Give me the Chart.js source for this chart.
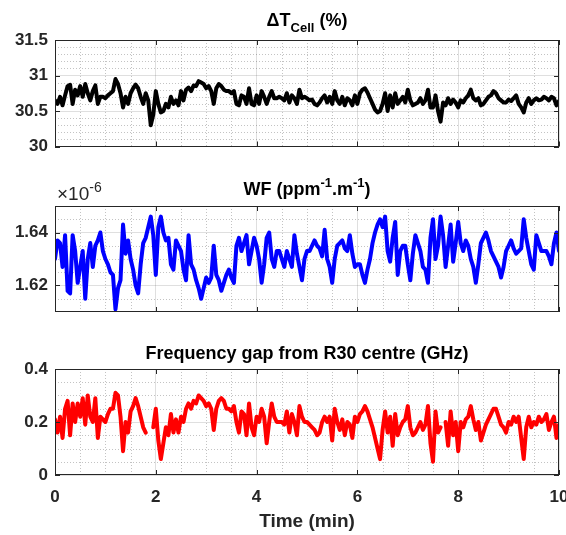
<!DOCTYPE html>
<html>
<head>
<meta charset="utf-8">
<script src="https://cdn.jsdelivr.net/npm/chart.js@4.4.1/dist/chart.umd.min.js"></script>
<style>
  html, body { margin: 0; padding: 0; background: #fff; }
  #wrap { position: relative; width: 566px; height: 535px; overflow: hidden; }
  #wrap canvas { position: absolute; left: 0; }
</style>
</head>
<body>
<div id="wrap">
  <canvas id="cell" width="566" height="165" style="top:0"></canvas>
  <canvas id="wf" width="566" height="170" style="top:165px"></canvas>
  <canvas id="gap" width="566" height="200" style="top:335px"></canvas>
</div>
<script>
// one sample every 3 s (0.05 min)
const TIME_STEP = 0.05;

const cellTemp = [
  30.65, 30.60, 30.70, 30.58, 30.72, 30.85, 30.87, 30.60, 30.80, 30.72,
  30.85, 30.70, 30.88, 30.75, 30.65, 30.78, 30.86, 30.60, 30.70, 30.70,
  30.68, 30.72, 30.75, 30.78, 30.95, 30.88, 30.75, 30.55, 30.70, 30.60,
  30.75, 30.82, 30.87, 30.82, 30.70, 30.60, 30.75, 30.65, 30.30, 30.45,
  30.78, 30.60, 30.48, 30.50, 30.60, 30.55, 30.70, 30.60, 30.65, 30.58,
  30.78, 30.65, 30.80, 30.83, 30.78, 30.86, 30.85, 30.92, 30.90, 30.88,
  30.82, 30.85, 30.78, 30.60, 30.82, 30.88, 30.85, 30.80, 30.78, 30.78,
  30.75, 30.78, 30.60, 30.58, 30.72, 30.70, 30.60, 30.82, 30.60, 30.58,
  30.72, 30.60, 30.78, 30.70, 30.60, 30.70, 30.78, 30.68, 30.68, 30.70,
  30.68, 30.65, 30.75, 30.62, 30.72, 30.68, 30.60, 30.80, 30.68, 30.70,
  30.68, 30.65, 30.66, 30.60, 30.58, 30.62, 30.68, 30.72, 30.62, 30.70,
  30.60, 30.78, 30.65, 30.60, 30.70, 30.58, 30.68, 30.65, 30.58, 30.72,
  30.60, 30.75, 30.80, 30.82, 30.76, 30.68, 30.60, 30.52, 30.48, 30.50,
  30.60, 30.75, 30.50, 30.72, 30.55, 30.75, 30.60, 30.65, 30.70, 30.62,
  30.80, 30.65, 30.58, 30.60, 30.62, 30.68, 30.60, 30.65, 30.80, 30.55,
  30.55, 30.72, 30.50, 30.35, 30.62, 30.58, 30.68, 30.60, 30.66, 30.62,
  30.55, 30.65, 30.62, 30.68, 30.72, 30.80, 30.68, 30.65, 30.68, 30.58,
  30.60, 30.65, 30.70, 30.72, 30.78, 30.75, 30.68, 30.65, 30.62, 30.62,
  30.66, 30.64, 30.68, 30.72, 30.60, 30.55, 30.48, 30.62, 30.68, 30.60,
  30.65, 30.68, 30.65, 30.66, 30.70, 30.68, 30.65, 30.70, 30.68, 30.58,
  30.64
];

// x 1e-6 ppm^-1.m^-1
const wfValues = [
  1.630, 1.637, 1.636, 1.627, 1.639, 1.618, 1.617, 1.639, 1.633, 1.621,
  1.627, 1.633, 1.615, 1.630, 1.636, 1.627, 1.635, 1.637, 1.640, 1.633,
  1.630, 1.628, 1.625, 1.624, 1.611, 1.619, 1.622, 1.643, 1.632, 1.637,
  1.630, 1.626, 1.620, 1.617, 1.628, 1.636, 1.638, 1.642, 1.646, 1.639,
  1.624, 1.642, 1.646, 1.640, 1.637, 1.638, 1.628, 1.626, 1.637, 1.635,
  1.633, 1.626, 1.622, 1.639, 1.628, 1.626, 1.622, 1.619, 1.615, 1.619,
  1.623, 1.621, 1.623, 1.635, 1.624, 1.622, 1.618, 1.621, 1.624, 1.626,
  1.623, 1.621, 1.635, 1.638, 1.633, 1.636, 1.639, 1.628, 1.633, 1.638,
  1.635, 1.630, 1.621, 1.628, 1.638, 1.640, 1.630, 1.627, 1.633, 1.633,
  1.630, 1.627, 1.633, 1.630, 1.627, 1.639, 1.632, 1.627, 1.622, 1.630,
  1.633, 1.633, 1.635, 1.637, 1.635, 1.634, 1.631, 1.641, 1.630, 1.627,
  1.621, 1.630, 1.635, 1.636, 1.637, 1.634, 1.633, 1.639, 1.632, 1.627,
  1.628, 1.628, 1.624, 1.621, 1.626, 1.630, 1.636, 1.640, 1.643, 1.645,
  1.642, 1.646, 1.633, 1.629, 1.638, 1.644, 1.624, 1.633, 1.635, 1.635,
  1.628, 1.622, 1.632, 1.639, 1.636, 1.633, 1.627, 1.626, 1.621, 1.638,
  1.645, 1.630, 1.635, 1.646, 1.639, 1.627, 1.635, 1.643, 1.629, 1.636,
  1.644, 1.636, 1.633, 1.637, 1.635, 1.630, 1.627, 1.621, 1.628, 1.636,
  1.638, 1.640, 1.637, 1.633, 1.631, 1.629, 1.627, 1.623, 1.627, 1.633,
  1.635, 1.637, 1.634, 1.632, 1.633, 1.634, 1.645, 1.638, 1.633, 1.628,
  1.626, 1.639, 1.636, 1.633, 1.633, 1.633, 1.631, 1.628, 1.636, 1.640,
  1.633
];

// GHz, null where the recording drops out
const freqGap = [
  0.21, 0.16, 0.22, 0.14, 0.25, 0.28, 0.15, 0.27, 0.20, 0.27,
  0.22, 0.29, 0.19, 0.30, 0.22, 0.20, 0.29, 0.14, 0.22, 0.21,
  0.20, 0.23, 0.25, 0.25, 0.31, 0.30, 0.22, 0.09, 0.20, 0.16,
  0.24, 0.26, 0.29, 0.26, 0.22, 0.18, 0.16, null, null, 0.18,
  0.25, 0.13, 0.06, 0.12, 0.18, 0.15, 0.23, 0.16, 0.21, 0.16,
  0.22, 0.20, 0.25, 0.27, 0.25, 0.28, 0.27, 0.30, 0.29, 0.28,
  0.26, 0.27, 0.25, 0.17, 0.25, 0.28, 0.29, 0.28, 0.25, 0.25,
  0.24, 0.26, 0.20, 0.16, 0.24, 0.23, 0.15, 0.27, 0.18, 0.15,
  0.22, 0.20, 0.25, 0.22, 0.12, 0.20, 0.27, 0.22, 0.20, 0.20,
  0.20, 0.19, 0.24, 0.16, 0.23, 0.20, 0.15, 0.26, 0.22, 0.20,
  0.20, 0.19, 0.18, 0.17, 0.15, 0.16, 0.20, 0.22, 0.20, 0.22,
  0.13, 0.25, 0.20, 0.17, 0.21, 0.15, 0.20, 0.19, 0.14, 0.22,
  0.20, 0.23, 0.24, 0.26, 0.24, 0.21, 0.18, 0.14, 0.10, 0.06,
  0.17, 0.24, 0.16, 0.22, 0.11, 0.23, 0.15, 0.18, 0.20, 0.21,
  0.26, 0.18, 0.15, 0.16, 0.18, 0.20, 0.17, 0.19, 0.26, 0.12,
  0.05, 0.24, 0.16, 0.18, null, 0.20, 0.11, 0.24, 0.15, 0.20,
  0.09, 0.20, 0.18, 0.21, 0.22, 0.26, 0.21, 0.17, 0.20, 0.13,
  0.16, 0.19, 0.21, 0.23, 0.25, 0.25, 0.22, 0.19, 0.18, 0.16,
  0.20, 0.19, 0.22, 0.20, 0.22, 0.14, 0.06, 0.18, 0.22, 0.18,
  0.20, 0.19, 0.22, 0.20, 0.21, 0.23, 0.17, 0.20, 0.22, 0.14,
  0.19
];

const times = cellTemp.map((_, i) => +(i * TIME_STEP).toFixed(2));
const xTicks = [0, 2, 4, 6, 8, 10];
const cellTicks = [30, 30.5, 31, 31.5];
const wfTicks = [1.62, 1.64];
const gapTicks = [0, 0.2, 0.4];

const FONT = '"Liberation Sans", Arial, Helvetica, sans-serif';
const AXIS_COLOR = '#262626';

function drawRich(ctx, parts, x, y, size, weight, align) {
  const fontFor = (p) => `${weight} ${p.sub || p.sup ? Math.round(size * 0.72) : size}px ${FONT}`;
  let total = 0;
  parts.forEach((p) => { ctx.font = fontFor(p); total += ctx.measureText(p.t).width; });
  let cx = align === 'center' ? x - total / 2 : x;
  ctx.textAlign = 'left';
  ctx.textBaseline = 'alphabetic';
  parts.forEach((p) => {
    ctx.font = fontFor(p);
    const dy = p.sub ? size * 0.32 : p.sup ? -size * 0.42 : 0;
    ctx.fillText(p.t, cx, y + dy);
    cx += ctx.measureText(p.t).width;
  });
}

const isMajor = (v, ticks) => ticks.some((t) => Math.abs(t - v) < 1e-9);

// keep the plot box fixed: no auto padding from edge labels
function noPadding(s) {
  s.paddingLeft = 0;
  s.paddingRight = 0;
  s.paddingTop = 0;
  s.paddingBottom = 0;
}

// matlab-like decorations: dotted minor grid, box, inward ticks, rich titles
const panelDeco = {
  id: 'panelDeco',
  beforeDatasetsDraw(chart, args, opts) {
    const { ctx, chartArea: a, scales: { x, y } } = chart;
    ctx.save();
    ctx.strokeStyle = 'rgba(38,38,38,0.28)';
    ctx.lineWidth = 1;
    ctx.setLineDash([1, 2]);
    ctx.beginPath();
    const nx = Math.round((x.max - x.min) / opts.minorX);
    for (let k = 1; k < nx; k++) {
      const v = x.min + k * opts.minorX;
      if (isMajor(v, xTicks)) continue;
      const px = Math.round(x.getPixelForValue(v)) + 0.5;
      ctx.moveTo(px, a.top);
      ctx.lineTo(px, a.bottom);
    }
    const ny = Math.round((y.max - y.min) / opts.minorY);
    for (let k = 1; k < ny; k++) {
      const v = y.min + k * opts.minorY;
      if (isMajor(v, opts.yTicks)) continue;
      const py = Math.round(y.getPixelForValue(v)) + 0.5;
      ctx.moveTo(a.left, py);
      ctx.lineTo(a.right, py);
    }
    ctx.stroke();
    ctx.restore();
  },
  afterDraw(chart, args, opts) {
    const { ctx, chartArea: a, scales: { x, y } } = chart;
    ctx.save();
    ctx.strokeStyle = AXIS_COLOR;
    ctx.lineWidth = 1;
    ctx.beginPath();
    xTicks.forEach((v) => {
      const px = Math.round(x.getPixelForValue(v)) + 0.5;
      ctx.moveTo(px, a.bottom); ctx.lineTo(px, a.bottom - 5);
      ctx.moveTo(px, a.top); ctx.lineTo(px, a.top + 5);
    });
    opts.yTicks.forEach((v) => {
      const py = Math.round(y.getPixelForValue(v)) + 0.5;
      ctx.moveTo(a.left, py); ctx.lineTo(a.left + 5, py);
      ctx.moveTo(a.right, py); ctx.lineTo(a.right - 5, py);
    });
    ctx.stroke();
    ctx.strokeRect(Math.round(a.left) + 0.5, Math.round(a.top) + 0.5,
      Math.round(a.right - a.left) - 1, Math.round(a.bottom - a.top) - 1);

    ctx.fillStyle = '#000';
    drawRich(ctx, opts.title, (a.left + a.right) / 2, opts.titleY, 18, 'bold', 'center');
    if (opts.exponent) {
      ctx.fillStyle = AXIS_COLOR;
      drawRich(ctx, opts.exponent, a.left + 2, opts.exponentY, 19, 'normal', 'left');
    }
    ctx.restore();
  }
};

function makePanel(id, values, color, yRange, yTicks, minorY, deco, showX, yLabel) {
  const xAxis = {
    type: 'linear',
    min: 0,
    max: 10,
    afterBuildTicks: (s) => { s.ticks = xTicks.map((v) => ({ value: v })); },
    afterFit: (s) => { s.height = showX ? 60 : 0; noPadding(s); },
    grid: { color: 'rgba(38,38,38,0.15)', drawTicks: false },
    border: { display: false },
    ticks: {
      display: showX,
      padding: 12,
      color: AXIS_COLOR,
      font: { family: FONT, size: 17, weight: 'bold' },
      maxRotation: 0,
      callback: (v) => String(v)
    },
    title: {
      display: showX,
      text: 'Time (min)',
      color: AXIS_COLOR,
      font: { family: FONT, size: 19, weight: 'bold' },
      padding: { top: 0, bottom: 2 }
    }
  };
  const yAxis = {
    min: yRange[0],
    max: yRange[1],
    afterBuildTicks: (s) => { s.ticks = yTicks.map((v) => ({ value: v })); },
    afterFit: (s) => { s.width = 55; noPadding(s); },
    grid: { color: 'rgba(38,38,38,0.15)', drawTicks: false },
    border: { display: false },
    ticks: {
      padding: 7,
      color: AXIS_COLOR,
      font: { family: FONT, size: 17, weight: 'bold' },
      callback: yLabel
    }
  };
  return new Chart(document.getElementById(id), {
    type: 'line',
    data: {
      datasets: [{
        data: times.map((t, i) => ({ x: t, y: values[i] })),
        borderColor: color,
        borderWidth: 4,
        borderJoinStyle: 'round',
        borderCapStyle: 'round',
        pointRadius: 0,
        tension: 0,
        spanGaps: false
      }]
    },
    options: {
      responsive: false,
      animation: false,
      events: [],
      layout: { padding: deco.padding, autoPadding: false },
      scales: { x: xAxis, y: yAxis },
      plugins: {
        legend: { display: false },
        tooltip: { enabled: false },
        panelDeco: Object.assign({ minorX: 0.5, minorY: minorY, yTicks: yTicks }, deco)
      }
    },
    plugins: [panelDeco]
  });
}

makePanel('cell', cellTemp, '#000000', [30, 31.5], cellTicks, 0.1, {
  padding: { top: 40, right: 7, bottom: 18.5, left: 0 },
  title: [{ t: '\u0394T' }, { t: 'Cell', sub: true }, { t: ' (%)' }],
  titleY: 26
}, false, (v) => String(v));

makePanel('wf', wfValues, '#0000ff', [1.61, 1.65], wfTicks, 0.005, {
  padding: { top: 41, right: 7, bottom: 23, left: 0 },
  title: [{ t: 'WF (ppm' }, { t: '-1', sup: true }, { t: '.m' }, { t: '-1', sup: true }, { t: ')' }],
  titleY: 30,
  exponent: [{ t: '\u00d710' }, { t: '-6', sup: true }],
  exponentY: 35
}, false, (v) => v.toFixed(2));

makePanel('gap', freqGap, '#ff0000', [0, 0.4], gapTicks, 0.05, {
  padding: { top: 34, right: 7, bottom: 0, left: 0 },
  title: [{ t: 'Frequency gap from R30 centre (GHz)' }],
  titleY: 24
}, true, (v) => String(v));
</script>
</body>
</html>
